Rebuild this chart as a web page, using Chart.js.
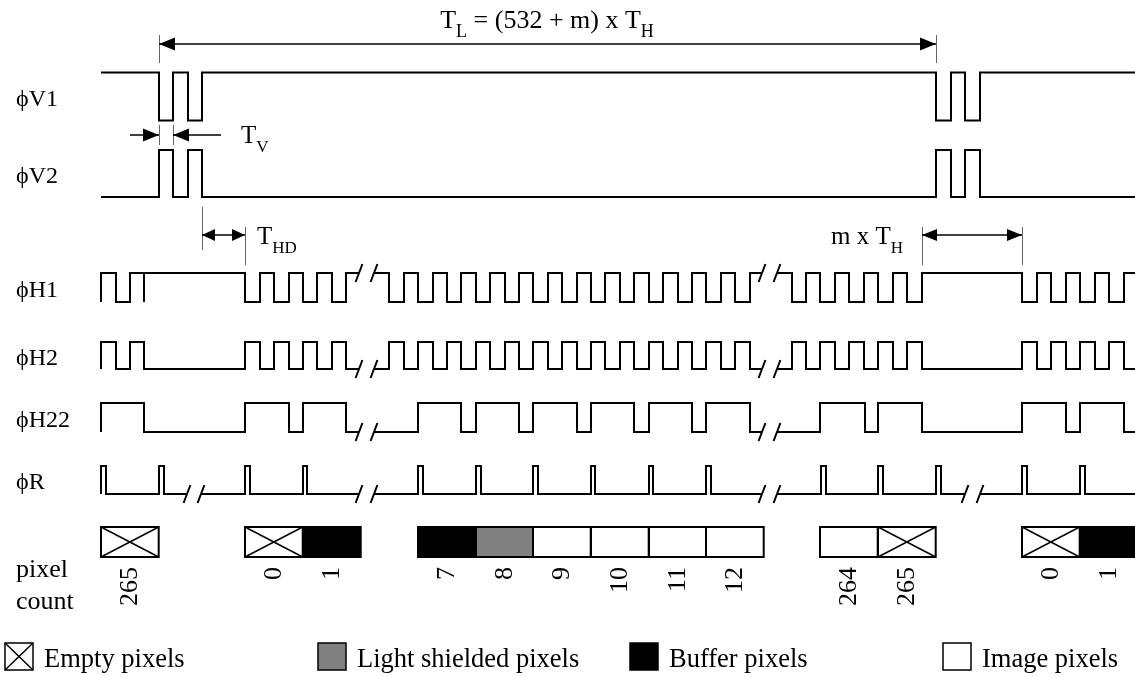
<!DOCTYPE html>
<html>
<head>
<meta charset="utf-8">
<script src="https://cdn.jsdelivr.net/npm/chart.js@4"></script>
<style>
  html, body { margin: 0; padding: 0; background: #fff; }
  canvas { display: block; }
</style>
</head>
<body>
<canvas id="timing" width="1135" height="677"></canvas>
<script>
// time axis runs 0..1135 (one pixel column ~ 57.7 units), null = broken line
const signalNames = ['ϕV1', 'ϕV2', 'ϕH1', 'ϕH2', 'ϕH22', 'ϕR'];

const v1Steps = [[101,1],[159,0],[173,1],[188,0],[202,1],[936,0],[951,1],[965,0],[980,1],[1135,1]];
const v2Steps = [[101,0],[159,1],[173,0],[188,1],[202,0],[936,1],[951,0],[965,1],[980,0],[1135,0]];
const h1Steps = [[101,0],[101,1],[116,0],[130,1],[144,0],[144,1],[245,0],[260,1],[274,0],[289,1],[303,0],[317,1],[332,0],[346,1],[359,1],null,
  [374,1],[389,0],[404,1],[418,0],[433,1],[447,0],[461,1],[476,0],[490,1],[505,0],[519,1],[533,0],[548,1],[562,0],[577,1],[591,0],[605,1],
  [620,0],[634,1],[649,0],[663,1],[678,0],[692,1],[706,0],[721,1],[735,0],[750,1],[762,1],null,
  [777,1],[792,0],[806,1],[820,0],[835,1],[849,0],[864,1],[878,0],[893,1],[907,0],[922,1],[1022,0],[1037,1],[1051,0],[1066,1],[1080,0],
  [1095,1],[1109,0],[1124,1],[1135,1]];
const h2Steps = [[101,0],[101,1],[116,0],[130,1],[144,0],[245,1],[260,0],[274,1],[289,0],[303,1],[317,0],[332,1],[346,0],[359,0],null,
  [374,0],[389,1],[404,0],[418,1],[433,0],[447,1],[461,0],[476,1],[490,0],[505,1],[519,0],[533,1],[548,0],[562,1],[577,0],[591,1],[605,0],
  [620,1],[634,0],[649,1],[663,0],[678,1],[692,0],[706,1],[721,0],[735,1],[750,0],[762,0],null,
  [777,0],[792,1],[806,0],[820,1],[835,0],[849,1],[864,0],[878,1],[893,0],[907,1],[922,0],[1022,1],[1037,0],[1051,1],[1066,0],[1080,1],
  [1095,0],[1109,1],[1124,0],[1135,0]];
const h22Steps = [[101,0],[101,1],[144,0],[245,1],[289,0],[303,1],[346,0],[359,0],null,
  [374,0],[418,1],[461,0],[476,1],[519,0],[533,1],[577,0],[591,1],[634,0],[649,1],[692,0],[706,1],[750,0],[762,0],null,
  [777,0],[820,1],[865,0],[878,1],[922,0],[1022,1],[1066,0],[1080,1],[1124,0],[1135,0]];
const rSteps = [[101,0],[101,1],[106,0],[159,1],[164,0],[187,0],null,[201,0],[245,1],[250,0],[303,1],[307,0],[359,0],null,
  [374,0],[418,1],[423,0],[476,1],[481,0],[533,1],[538,0],[591,1],[595,0],[649,1],[653,0],[706,1],[711,0],[762,0],null,
  [777,0],[821,1],[826,0],[878,1],[883,0],[936,1],[941,0],[965,0],null,[980,0],[1022,1],[1027,0],[1080,1],[1085,0],[1135,0]];
const signalSteps = [v1Steps, v2Steps, h1Steps, h2Steps, h22Steps, rSteps];

// where each line is broken (the "//" marks) and on which level
const signalBreaks = [[], [], [[359,374],[762,777]], [[359,374],[762,777]], [[359,374],[762,777]],
  [[187,201],[359,374],[762,777],[965,980]]];
const breakLevels = [0, 0, 1, 0, 0, 0];

const pixelCounts = ['265', '0', '1', '7', '8', '9', '10', '11', '12', '264', '265', '0', '1'];
const pixelStarts = [101, 245, 303, 418, 476, 533, 591, 649, 706, 820, 878, 1022, 1080];
const pixelTypes = ['empty', 'empty', 'buffer', 'buffer', 'shielded', 'image', 'image', 'image', 'image', 'image', 'empty', 'empty', 'buffer'];
const pixelWidth = 57.7;

const legendLabels = ['Empty pixels', 'Light shielded pixels', 'Buffer pixels', 'Image pixels'];
const legendTypes = ['empty', 'shielded', 'buffer', 'image'];

// layout
const ROW_HIGH = [72.5, 150, 273, 342, 403, 466];
const ROW_LOW = [120.5, 197, 302, 369, 432, 494];
const SERIF = '"Liberation Serif", "DejaVu Serif", serif';
const fills = { empty: '#fff', shielded: '#808080', buffer: '#000', image: '#fff' };

const datasets = signalSteps.map((steps, i) => ({
  label: signalNames[i],
  data: steps.map((p, k) => p === null
    ? { x: steps[k - 1][0] + 1, y: null }
    : { x: p[0], y: p[1] ? ROW_HIGH[i] : ROW_LOW[i] }),
  borderColor: '#000',
  borderWidth: 2,
  stepped: 'before',
  pointRadius: 0,
  fill: false,
  spanGaps: false,
}));

function textRun(ctx, parts, x, y, size, align) {
  const sub = Math.round(size * 0.68);
  let w = 0;
  parts.forEach(([t, s]) => { ctx.font = (s ? sub : size) + 'px ' + SERIF; w += ctx.measureText(t).width; });
  let cx = align === 'center' ? x - w / 2 : x;
  ctx.textAlign = 'left';
  ctx.textBaseline = 'alphabetic';
  parts.forEach(([t, s]) => {
    ctx.font = (s ? sub : size) + 'px ' + SERIF;
    ctx.fillText(t, cx, s ? y + 8.5 : y);
    cx += ctx.measureText(t).width;
  });
}

function head(ctx, tip, y, dir, len, half) {
  ctx.beginPath();
  ctx.moveTo(tip, y);
  ctx.lineTo(tip - dir * len, y - half);
  ctx.lineTo(tip - dir * len, y + half);
  ctx.closePath();
  ctx.fill();
}

function line(ctx, x0, y0, x1, y1) {
  ctx.beginPath();
  ctx.moveTo(x0, y0);
  ctx.lineTo(x1, y1);
  ctx.stroke();
}

function drawBox(ctx, x0, y0, x1, y1, type, lw) {
  ctx.fillStyle = fills[type];
  ctx.fillRect(x0, y0, x1 - x0, y1 - y0);
  ctx.lineWidth = lw;
  ctx.strokeStyle = '#000';
  ctx.strokeRect(x0, y0, x1 - x0, y1 - y0);
  if (type === 'empty') {
    ctx.lineWidth = 1.5;
    line(ctx, x0, y0, x1, y1);
    line(ctx, x0, y1, x1, y0);
  }
}

const diagram = {
  id: 'diagram',
  afterDatasetsDraw(chart) {
    const { ctx, scales: { x, y } } = chart;
    const X = v => x.getPixelForValue(v);
    const Y = v => y.getPixelForValue(v);
    ctx.save();
    ctx.fillStyle = '#000';
    ctx.strokeStyle = '#000';

    // break marks
    ctx.lineWidth = 2;
    signalBreaks.forEach((list, i) => {
      const ly = Y(breakLevels[i] ? ROW_HIGH[i] : ROW_LOW[i]);
      list.forEach(pair => pair.forEach(t => line(ctx, X(t) - 3.4, ly + 9, X(t) + 3.4, ly - 9)));
    });

    // dimension ticks
    ctx.strokeStyle = '#666';
    ctx.lineWidth = 1;
    [[159, 35, 63], [936, 35, 63], [159, 125, 145], [173, 125, 145],
     [202, 207, 250], [245, 227, 265], [922, 227, 265], [1022, 227, 265]]
      .forEach(([t, a, b]) => line(ctx, X(t) + 0.5, Y(a), X(t) + 0.5, Y(b)));

    // arrows
    ctx.strokeStyle = '#000';
    ctx.fillStyle = '#000';
    ctx.lineWidth = 1.5;
    line(ctx, X(159), Y(44), X(936), Y(44));
    head(ctx, X(159), Y(44), -1, 16, 6.5);
    head(ctx, X(936), Y(44), 1, 16, 6.5);
    line(ctx, X(130), Y(135), X(159), Y(135));
    head(ctx, X(159), Y(135), 1, 16, 6.5);
    line(ctx, X(173), Y(135), X(221), Y(135));
    head(ctx, X(173), Y(135), -1, 16, 6.5);
    line(ctx, X(202), Y(235), X(245), Y(235));
    head(ctx, X(202), Y(235), -1, 13, 6);
    head(ctx, X(245), Y(235), 1, 13, 6);
    line(ctx, X(922), Y(235), X(1022), Y(235));
    head(ctx, X(922), Y(235), -1, 15, 6);
    head(ctx, X(1022), Y(235), 1, 15, 6);

    // annotations
    textRun(ctx, [['T', 0], ['L', 1], [' = (532 + m) x T', 0], ['H', 1]], X(547), Y(28), 26, 'center');
    textRun(ctx, [['T', 0], ['V', 1]], X(241), Y(143), 25, 'left');
    textRun(ctx, [['T', 0], ['HD', 1]], X(257), Y(244), 25, 'left');
    textRun(ctx, [['m x T', 0], ['H', 1]], X(831), Y(244), 25, 'left');

    // signal names
    signalNames.forEach((n, i) => {
      textRun(ctx, [[n, 0]], 16, Y((ROW_HIGH[i] + ROW_LOW[i]) / 2) + 9, 24, 'left');
    });

    // pixel boxes and counts
    pixelStarts.forEach((s, k) => {
      drawBox(ctx, X(s), 527, X(s + pixelWidth), 557, pixelTypes[k], 2);
    });
    ctx.fillStyle = '#000';
    ctx.font = '26px ' + SERIF;
    pixelStarts.forEach((s, k) => {
      ctx.save();
      ctx.translate(X(s + pixelWidth / 2), 567);
      ctx.rotate(-Math.PI / 2);
      ctx.textAlign = 'right';
      ctx.textBaseline = 'middle';
      ctx.fillText(pixelCounts[k], 0, 0);
      ctx.restore();
    });
    textRun(ctx, [['pixel', 0]], 16, 577, 26, 'left');
    textRun(ctx, [['count', 0]], 16, 609, 26, 'left');

    // legend
    const legendX = [5, 318, 630, 943];
    legendLabels.forEach((lab, k) => {
      drawBox(ctx, legendX[k], 643, legendX[k] + 28, 670, legendTypes[k], 1.5);
      ctx.fillStyle = '#000';
      textRun(ctx, [[lab, 0]], legendX[k] + 39, 667, 26.5, 'left');
    });
    ctx.restore();
  }
};

new Chart(document.getElementById('timing'), {
  type: 'line',
  data: { datasets },
  options: {
    responsive: false,
    animation: false,
    layout: { padding: 0 },
    plugins: { legend: { display: false }, tooltip: { enabled: false } },
    scales: {
      x: { type: 'linear', min: 0, max: 1135, display: false },
      y: { type: 'linear', min: 0, max: 677, reverse: true, display: false },
    },
  },
  plugins: [diagram],
});
</script>
</body>
</html>
